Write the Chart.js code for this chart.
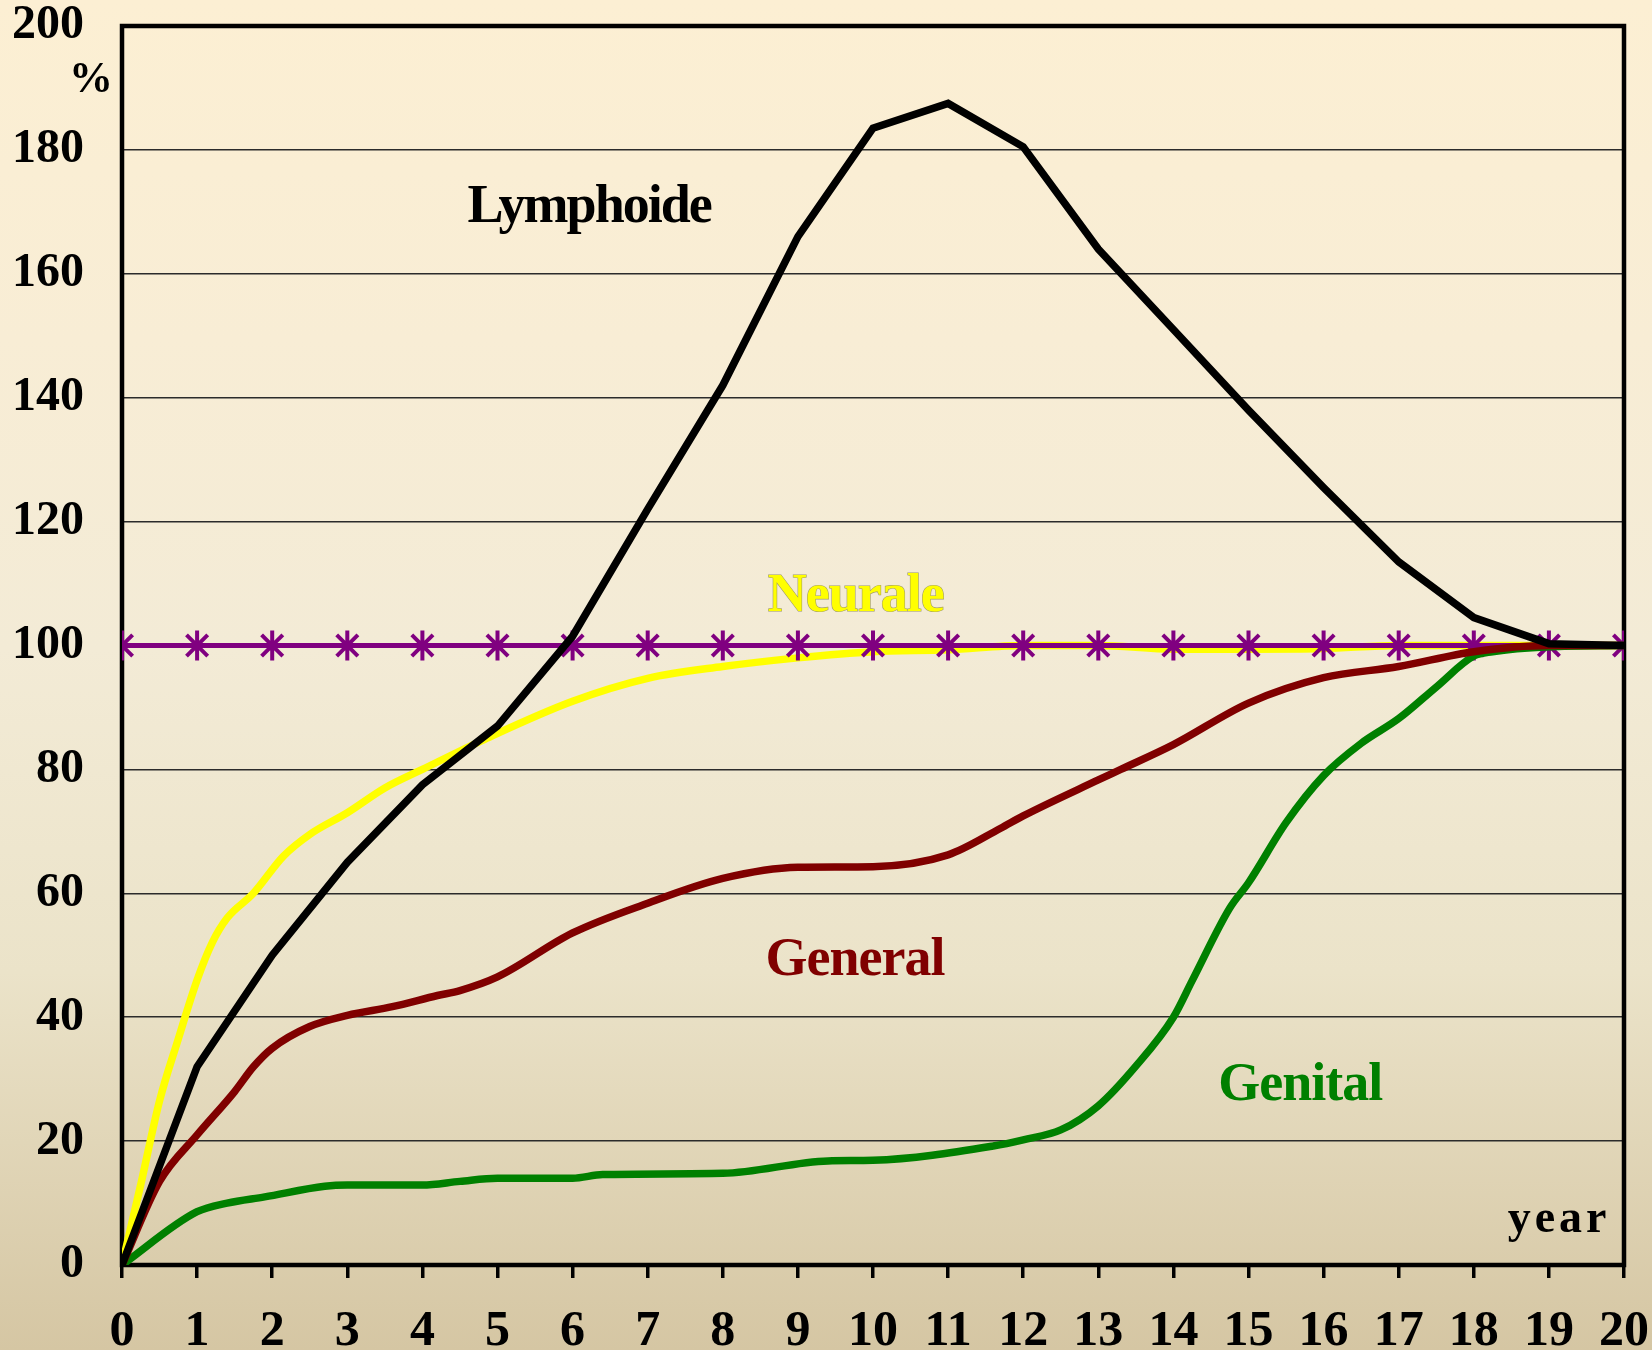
<!DOCTYPE html>
<html><head><meta charset="utf-8">
<script src="https://cdn.jsdelivr.net/npm/chart.js@4.4.1/dist/chart.umd.min.js"></script>
<style>
html,body{margin:0;padding:0;}
body{width:1652px;height:1350px;overflow:hidden;background:linear-gradient(to bottom,#fcefd3 0%,#f8edd5 25%,#f3ebd6 48%,#ebe3c9 72%,#d5c6a3 100%);}
#wrap{position:relative;width:1652px;height:1350px;}
</style></head><body><div id="wrap"><canvas id="c"></canvas></div>
<script>
// ---- data ----
const xTickValues = [0,1,2,3,4,5,6,7,8,9,10,11,12,13,14,15,16,17,18,19,20];
const yTickValues = [0,20,40,60,80,100,120,140,160,180,200];

const lymphX = [0,1,2,3,4,5,6,7,8,9,10,11,12,13,14,15,16,17,18,19,20];
const lymphY = [0,32,50,65,77.5,87,101.5,122,142,166,183.5,187.5,180.5,164,151,138,125.5,113.5,104.5,100.3,100];

const neuralX = [0,0.25,0.5,0.75,1,1.2,1.4,1.75,2.15,2.5,3,3.5,4,4.8,6,7,8,9,10,11,12,13,14,15,16,17,18,19,20];
const neuralY = [0,13,26.5,36.5,46,52,56,60,66,69.5,73,77,80,84.7,91,94.7,96.6,98,99,99.3,100,100,99.4,99.4,99.5,100,100,100,100];

const generalX = [0,0.5,1,1.5,1.75,2,2.5,3,3.6,4.2,4.5,5,6,7,8,9,10,11,11.7,12,13,13.3,14,15,16,17,18,19,20];
const generalY = [0,13.5,21,28,32,35,38.5,40.3,41.7,43.5,44.3,46.5,53.6,58.4,62.4,64.2,64.3,66.2,70.5,72.5,78.3,80,84,90.7,94.8,96.6,99,100,100];

const genitalX = [0,1,1.4,1.9,2.7,3,4,4.5,5,6,6.4,8,9.4,10,11.6,12,12.5,13,13.5,14,14.25,14.75,15,15.5,16,16.5,17,17.5,18,18.25,19,20];
const genitalY = [0,8.6,10,11,12.7,12.9,12.9,13.5,14,14,14.6,14.8,16.8,16.9,19.2,20.2,21.8,25.7,32.1,40,45.9,57.6,61.7,71.4,79,84.2,88.2,93.3,98.3,99,99.8,100];

const refX = [0,1,2,3,4,5,6,7,8,9,10,11,12,13,14,15,16,17,18,19,20];
const refY = [100,100,100,100,100,100,100,100,100,100,100,100,100,100,100,100,100,100,100,100,100];

const pts = (xs, ys) => xs.map((v, i) => ({x: v, y: ys[i]}));

const FONT = '"Liberation Serif","Times New Roman",serif';

const decor = {
  id: 'decor',
  beforeDatasetsDraw(chart) {
    const {ctx, chartArea: a} = chart;
    ctx.save();
    ctx.lineWidth = 4.5;
    ctx.strokeStyle = '#000';
    ctx.strokeRect(a.left, a.top, a.right - a.left, a.bottom - a.top);
    ctx.restore();
  },
  afterDatasetsDraw(chart) {
    const {ctx, chartArea: a, scales: {x, y}} = chart;
    ctx.save();
    ctx.textAlign = 'center';
    ctx.textBaseline = 'alphabetic';
    const put = (t, xv, yv, color, size, spacing, stroke) => {
      ctx.font = 'bold ' + size + 'px ' + FONT;
      ctx.letterSpacing = spacing || '0px';
      const px = x.getPixelForValue(xv), py = y.getPixelForValue(yv);
      if (stroke) { ctx.lineWidth = 1.2; ctx.strokeStyle = stroke; ctx.strokeText(t, px, py); }
      ctx.fillStyle = color;
      ctx.fillText(t, px, py);
    };
    put('Lymphoide', 6.22, 168.4, '#000000', 54, '-2px');
    put('Neurale', 9.77, 105.6, '#ffff00', 54, '-1px', '#9f9a6a');
    put('General', 9.76, 46.8, '#800000', 54, '-1px');
    put('Genital', 15.69, 26.6, '#008000', 54, '-1px');
    ctx.textAlign = 'right';
    put('year', 19.82, 5.3, '#000000', 46, '4px');
    ctx.textAlign = 'center';
    ctx.font = 'bold 44px ' + FONT;
    ctx.letterSpacing = '0px';
    ctx.fillStyle = '#000';
    ctx.fillText('%', a.left - 31, y.getPixelForValue(189.3));
    ctx.restore();
  }
};

new Chart(document.getElementById('c'), {
  type: 'line',
  data: {
    datasets: [
      {label: 'Lymphoide', data: pts(lymphX, lymphY), borderColor: '#000000', borderWidth: 7.5, pointRadius: 0, tension: 0, order: 1},
      {label: 'General', data: pts(generalX, generalY), borderColor: '#800000', borderWidth: 7.5, pointRadius: 0, cubicInterpolationMode: 'monotone', order: 2},
      {label: 'Genital', data: pts(genitalX, genitalY), borderColor: '#008000', borderWidth: 7.5, pointRadius: 0, cubicInterpolationMode: 'monotone', order: 3},
      {label: 'Reference', data: pts(refX, refY), borderColor: '#800080', borderWidth: 5, pointStyle: 'star', pointRadius: 15, pointBorderWidth: 4, pointBorderColor: '#800080', pointBackgroundColor: '#800080', tension: 0, order: 4},
      {label: 'Neurale', data: pts(neuralX, neuralY), borderColor: '#ffff00', borderWidth: 7.5, pointRadius: 0, cubicInterpolationMode: 'monotone', order: 5}
    ]
  },
  options: {
    responsive: true,
    maintainAspectRatio: false,
    animation: false,
    events: [],
    layout: {padding: {top: 26, right: 28, left: 0, bottom: 0}},
    plugins: {legend: {display: false}, tooltip: {enabled: false}},
    scales: {
      x: {
        type: 'linear', min: 0, max: 20,
        afterBuildTicks: s => { s.ticks = xTickValues.map(v => ({value: v})); },
        afterFit: s => { s.height = 85; s.paddingLeft = 0; s.paddingRight = 0; },
        grid: {drawOnChartArea: false, drawTicks: true, tickLength: 13, color: '#000', lineWidth: 3.5},
        border: {display: false},
        ticks: {color: '#000', font: {family: FONT, size: 50, weight: 'bold'}, padding: 24, maxRotation: 0, autoSkip: false}
      },
      y: {
        type: 'linear', min: 0, max: 200,
        afterBuildTicks: s => { s.ticks = yTickValues.map(v => ({value: v})); },
        afterFit: s => { s.width = 122; s.paddingTop = 0; s.paddingBottom = 0; },
        grid: {drawTicks: false, color: '#2b2b2b', lineWidth: 1.5},
        border: {display: false},
        ticks: {color: '#000', font: {family: FONT, size: 48, weight: 'bold'}, padding: 38, autoSkip: false}
      }
    }
  },
  plugins: [decor]
});
</script>
</body></html>
